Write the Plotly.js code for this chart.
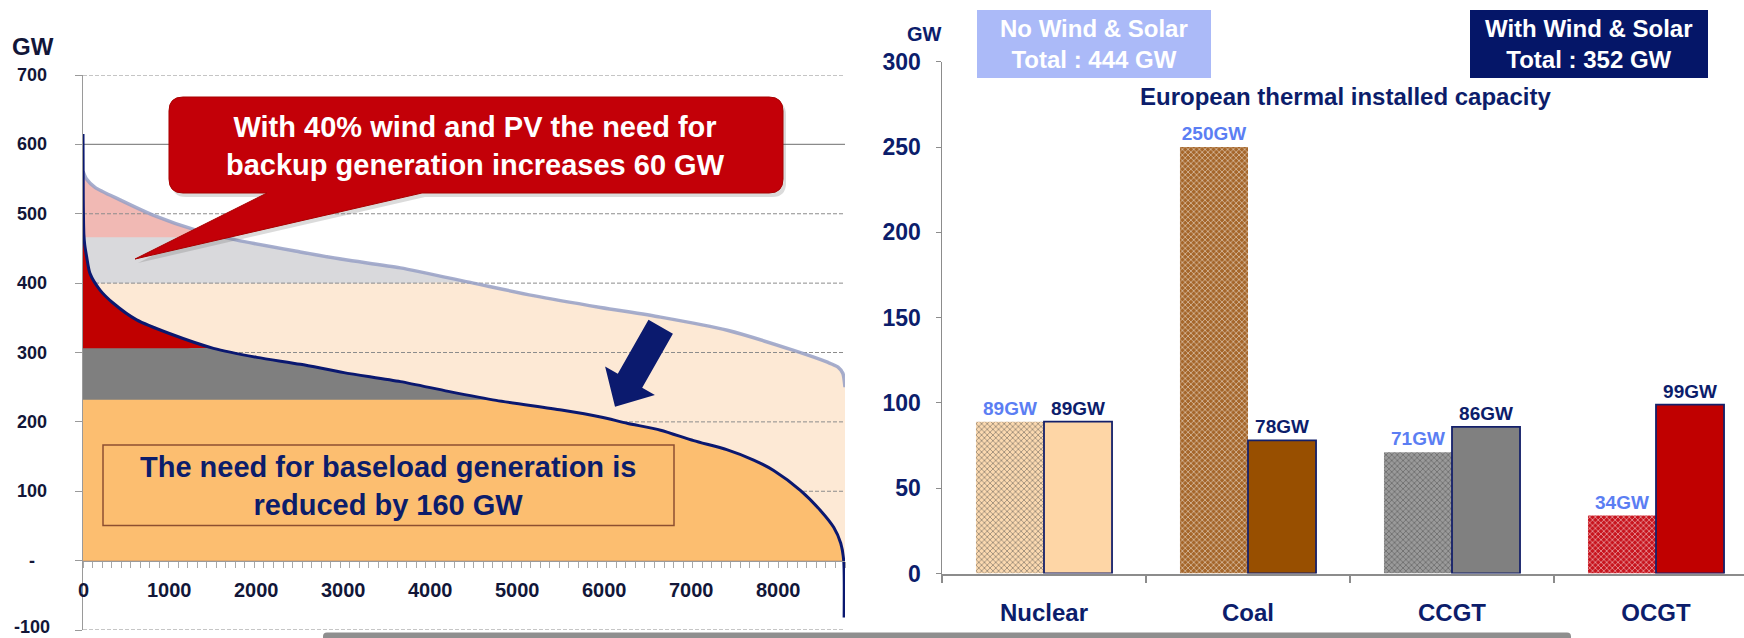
<!DOCTYPE html>
<html>
<head>
<meta charset="utf-8">
<script src="https://cdn.plot.ly/plotly-3.0.1.min.js"></script>
<style>
  html, body { margin: 0; padding: 0; background: #ffffff; overflow: hidden; }
  #chart { width: 1744px; height: 638px; }
</style>
</head>
<body>
<div id="chart"></div>
<script>
// ---- Residual load duration curves (hour rank of the year, GW) ----
const noWindHours = [0, 40, 138, 425, 805, 1308, 1768, 2497, 3000, 3648, 4488, 5178, 5950, 6640, 7407, 8170, 8558, 8680, 8735, 8760];
const noWindGW    = [561, 550, 538, 520, 498, 476, 462, 445, 434, 422, 400, 382, 365, 351, 332, 303, 286, 279, 270, 250];

const withWindHours = [0, 3, 10, 20, 42, 80, 196, 349, 617, 1001, 1500, 2000, 2500, 3000, 3650, 4200, 4750, 5500, 5950, 6256, 6640, 7020, 7400, 7710, 7940, 8250, 8480, 8630, 8711, 8745, 8750];
const withWindGW    = [615, 520, 470, 455, 438, 414, 390, 371, 347, 327, 306, 293, 283, 271, 258, 244, 231, 217, 207, 198, 188, 173, 160, 145, 130, 101, 72, 48, 25, 0, -82];

// Upper limits of the generation bands (GW)
const noWindBandTops   = [400, 466];   // baseload | mid-merit | backup
const withWindBandTops = [232, 306];   // baseload | mid-merit | backup

// Load chart axis ticks
const loadTickVals = [-100, 0, 100, 200, 300, 400, 500, 600, 700];
const loadTickText = ['-100', '-', '100', '200', '300', '400', '500', '600', '700'];
const hourTickVals = [0, 1000, 2000, 3000, 4000, 5000, 6000, 7000, 8000];

// ---- European thermal installed capacity (GW) ----
const techs         = ['Nuclear', 'Coal', 'CCGT', 'OCGT'];
const capNoWind     = [89, 250, 71, 34];
const capWithWind   = [89, 78, 86, 99];
const totalNoWind   = 444;
const totalWithWind = 352;

// ---- Page geometry helpers (pixel -> paper fraction) ----
const W = 1744, H = 638;
const fx = x => x / W;
const fy = y => 1 - y / H;
const P = (x, y) => fx(x).toFixed(5) + ',' + fy(y).toFixed(5);

const FONT = 'Liberation Sans, Arial, Helvetica, sans-serif';
const NAVY = '#0c1d6b';
const INK = '#121638';

// Left plot domain
const loadY0px = 630, loadY1px = 75;
const loadRange = [-100, 700];
const loadYDomain = [fy(loadY0px), fy(loadY1px)];
const zeroPos = loadYDomain[0] + (0 - loadRange[0]) / (loadRange[1] - loadRange[0]) * (loadYDomain[1] - loadYDomain[0]);

// Right plot domain
const capX0px = 942, catPx = 204;
const capYDomain = [fy(573.5), fy(61.7)];

const clipTop = (arr, top) => arr.map(v => Math.max(0, Math.min(v, top)));
const clipZero = arr => arr.map(v => Math.max(0, v));
const SMOOTH = 0.7;

function area(x, y, color) {
  return {
    type: 'scatter', mode: 'lines', x: x, y: y, xaxis: 'x', yaxis: 'y',
    fill: 'tozeroy', fillcolor: color,
    line: { width: 0, color: color, shape: 'spline', smoothing: SMOOTH },
    hoverinfo: 'skip', showlegend: false
  };
}

// gridlines of the load chart, drawn between the two layers of areas
const dashedVals = loadTickVals.filter(v => v !== 0 && v !== 600);
const gx = [], gy = [];
dashedVals.forEach(v => { gx.push(0, 8760, null); gy.push(v, v, null); });

const patternFill = { fillmode: 'overlay', shape: 'x', size: 4, solidity: 0.35, fgcolor: '#ffffff', fgopacity: 0.6 };

const traces = [
  // without wind & solar: backup / mid / base areas under the load curve
  area(noWindHours, clipZero(noWindGW), '#f1b9b4'),
  area(noWindHours, clipTop(noWindGW, noWindBandTops[1]), '#d9d9dc'),
  area(noWindHours, clipTop(noWindGW, noWindBandTops[0]), '#fde9d5'),
  { type: 'scatter', mode: 'lines', x: gx, y: gy, xaxis: 'x', yaxis: 'y',
    line: { color: '#8c8c8c', width: 1, dash: '4px,2px' }, hoverinfo: 'skip', showlegend: false },
  { type: 'scatter', mode: 'lines', x: [0, 8760], y: [600, 600], xaxis: 'x', yaxis: 'y',
    line: { color: '#8a8a8a', width: 1.2 }, hoverinfo: 'skip', showlegend: false },
  // with wind & solar: residual load areas
  area(withWindHours, clipZero(withWindGW), '#c00000'),
  area(withWindHours, clipTop(withWindGW, withWindBandTops[1]), '#7f7f7f'),
  area(withWindHours, clipTop(withWindGW, withWindBandTops[0]), '#fcbe70'),
  // curves
  { type: 'scatter', mode: 'lines', x: noWindHours, y: noWindGW, xaxis: 'x', yaxis: 'y',
    line: { color: 'rgba(150,160,198,0.85)', width: 3.5, shape: 'spline', smoothing: SMOOTH },
    hoverinfo: 'skip', showlegend: false },
  { type: 'scatter', mode: 'lines', x: withWindHours, y: withWindGW, xaxis: 'x', yaxis: 'y',
    line: { color: '#0a1870', width: 3, shape: 'spline', smoothing: SMOOTH },
    hoverinfo: 'skip', showlegend: false },
  // capacity bars
  { type: 'bar', name: 'No Wind & Solar', x: techs, y: capNoWind, xaxis: 'x2', yaxis: 'y2',
    marker: { color: ['#fbd9b0', '#a5662a', '#9a9a9a', '#c8141e'],
              line: { width: 0 }, pattern: patternFill },
    texttemplate: '%{y}GW', textposition: 'outside', cliponaxis: false, constraintext: 'none',
    textfont: { family: FONT, size: 19, color: '#5b7ef3', weight: 'bold' },
    hoverinfo: 'skip', showlegend: false },
  { type: 'bar', name: 'With Wind & Solar', x: techs, y: capWithWind, xaxis: 'x2', yaxis: 'y2',
    marker: { color: ['#fed6a6', '#984f00', '#808080', '#c00000'],
              line: { width: 1.8, color: '#14206a' } },
    texttemplate: '%{y}GW', textposition: 'outside', cliponaxis: false, constraintext: 'none',
    textfont: { family: FONT, size: 19, color: NAVY, weight: 'bold' },
    hoverinfo: 'skip', showlegend: false }
];

// ---- Annotations ----
const annotations = [];
// load chart tick labels
loadTickVals.forEach((v, i) => annotations.push({
  xref: 'paper', yref: 'y', x: fx(32), y: v, text: loadTickText[i], showarrow: false,
  xanchor: 'center', yanchor: 'middle', yshift: v === -100 ? 3 : 0,
  font: { family: FONT, size: 18, color: INK, weight: 'bold' }
}));
hourTickVals.forEach(v => annotations.push({
  xref: 'x', yref: 'y', x: v, y: -42, text: String(v), showarrow: false,
  xanchor: 'center', yanchor: 'middle', font: { family: FONT, size: 20, color: INK, weight: 'bold' }
}));
annotations.push(
  { xref: 'paper', yref: 'paper', x: fx(33), y: fy(46), text: 'GW', showarrow: false,
    xanchor: 'center', yanchor: 'middle', font: { family: FONT, size: 24, color: INK, weight: 'bold' } },
  { xref: 'paper', yref: 'paper', x: fx(475), y: fy(146), showarrow: false,
    text: 'With 40% wind and PV the need for<br>backup generation increases 60 GW',
    xanchor: 'center', yanchor: 'middle', align: 'center',
    font: { family: FONT, size: 29, color: '#ffffff', weight: 'bold' } },
  { xref: 'paper', yref: 'paper', x: fx(388), y: fy(486), showarrow: false,
    text: 'The need for baseload generation is<br>reduced by 160 GW',
    xanchor: 'center', yanchor: 'middle', align: 'center',
    font: { family: FONT, size: 29, color: NAVY, weight: 'bold' } },
  // capacity chart texts
  { xref: 'paper', yref: 'paper', x: fx(924), y: fy(34), text: 'GW', showarrow: false,
    xanchor: 'center', yanchor: 'middle', font: { family: FONT, size: 20, color: NAVY, weight: 'bold' } },
  { xref: 'paper', yref: 'paper', x: fx(1345), y: fy(97), text: 'European thermal installed capacity', showarrow: false,
    xanchor: 'center', yanchor: 'middle', font: { family: FONT, size: 24, color: NAVY, weight: 'bold' } },
  { xref: 'paper', yref: 'paper', x: fx(1094), y: fy(44), showarrow: false,
    text: 'No Wind & Solar<br>Total : ' + totalNoWind + ' GW', align: 'center',
    xanchor: 'center', yanchor: 'middle', font: { family: FONT, size: 24, color: '#ffffff', weight: 'bold' } },
  { xref: 'paper', yref: 'paper', x: fx(1589), y: fy(44), showarrow: false,
    text: 'With Wind & Solar<br>Total : ' + totalWithWind + ' GW', align: 'center',
    xanchor: 'center', yanchor: 'middle', font: { family: FONT, size: 24, color: '#ffffff', weight: 'bold' } }
);

// ---- Shapes: callout bubble, arrow, boxes, footer bar ----
function bubblePath(dx, dy) {
  const L = 169 + dx, R = 783 + dx, T = 97 + dy, B = 193 + dy, r = 14;
  return 'M' + P(L + r, T) + ' L' + P(R - r, T) + ' Q' + P(R, T) + ' ' + P(R, T + r) +
         ' L' + P(R, B - r) + ' Q' + P(R, B) + ' ' + P(R - r, B) +
         ' L' + P(422 + dx, B) + ' L' + P(135 + dx, 259 + dy) + ' L' + P(267 + dx, B) +
         ' L' + P(L + r, B) + ' Q' + P(L, B) + ' ' + P(L, B - r) +
         ' L' + P(L, T + r) + ' Q' + P(L, T) + ' ' + P(L + r, T) + ' Z';
}
const arrowPts = [[672.9, 333.7], [642.2, 387.8], [654.9, 395.1], [615, 406.7], [605.1, 366.5], [617.8, 373.8], [648.5, 319.7]];
const arrowPath = 'M' + arrowPts.map(p => P(p[0], p[1])).join(' L') + ' Z';

function roundRect(x0, y0, x1, y1, r) {
  return 'M' + P(x0 + r, y0) + ' L' + P(x1 - r, y0) + ' Q' + P(x1, y0) + ' ' + P(x1, y0 + r) +
         ' L' + P(x1, y1 - r) + ' Q' + P(x1, y1) + ' ' + P(x1 - r, y1) +
         ' L' + P(x0 + r, y1) + ' Q' + P(x0, y1) + ' ' + P(x0, y1 - r) +
         ' L' + P(x0, y0 + r) + ' Q' + P(x0, y0) + ' ' + P(x0 + r, y0) + ' Z';
}

const shapes = [
  { type: 'path', xref: 'paper', yref: 'paper', path: bubblePath(3, 4),
    fillcolor: 'rgba(90,90,90,0.22)', line: { width: 0 } },
  { type: 'path', xref: 'paper', yref: 'paper', path: bubblePath(0, 0),
    fillcolor: '#c30008', line: { width: 1, color: '#a80000' } },
  { type: 'path', xref: 'paper', yref: 'paper', path: arrowPath,
    fillcolor: '#0b1a6e', line: { width: 0 } },
  { type: 'rect', xref: 'paper', yref: 'paper', x0: fx(103), x1: fx(674), y0: fy(525.5), y1: fy(445),
    fillcolor: 'rgba(0,0,0,0)', line: { width: 1.5, color: '#8d4f30' } },
  { type: 'rect', xref: 'paper', yref: 'paper', x0: fx(977), x1: fx(1211), y0: fy(78), y1: fy(10),
    fillcolor: '#abbaf8', line: { width: 0 } },
  { type: 'rect', xref: 'paper', yref: 'paper', x0: fx(1470), x1: fx(1708), y0: fy(78), y1: fy(10),
    fillcolor: '#051668', line: { width: 0 } },
  { type: 'path', xref: 'paper', yref: 'paper', path: roundRect(323, 632.5, 1571, 646, 4),
    fillcolor: '#8e8e8e', line: { width: 0 } }
];

const layout = {
  width: W, height: H,
  margin: { l: 0, r: 0, t: 0, b: 0, pad: 0 },
  paper_bgcolor: '#ffffff', plot_bgcolor: 'rgba(0,0,0,0)',
  showlegend: false,
  font: { family: FONT, color: NAVY },
  xaxis: {
    domain: [fx(83), fx(845)], range: [0, 8760], anchor: 'free', position: zeroPos,
    showline: true, linecolor: '#9a9a9a', linewidth: 1.5,
    tickmode: 'linear', tick0: 0, dtick: 109.5, ticks: 'outside', ticklen: 6, tickwidth: 1, tickcolor: '#a8a8a8',
    showticklabels: false, showgrid: false, zeroline: false, fixedrange: true
  },
  yaxis: {
    domain: loadYDomain, range: loadRange, anchor: 'x',
    showline: true, linecolor: '#9a9a9a', linewidth: 1,
    tickmode: 'array', tickvals: loadTickVals, ticks: 'outside', ticklen: 7, tickcolor: '#9a9a9a',
    showticklabels: false, showgrid: false, zeroline: false, fixedrange: true
  },
  xaxis2: {
    domain: [fx(capX0px), 1], range: [-0.5, -0.5 + (W - capX0px) / catPx], anchor: 'y2',
    type: 'category', showline: true, linecolor: '#8c8c8c', linewidth: 2.5,
    ticks: 'outside', tickson: 'boundaries', ticklen: 7, tickwidth: 1.5, tickcolor: '#8c8c8c',
    ticklabelstandoff: 16,
    tickfont: { family: FONT, size: 24, color: NAVY, weight: 'bold' },
    showgrid: false, zeroline: false, fixedrange: true
  },
  yaxis2: {
    domain: capYDomain, range: [0, 300], anchor: 'x2',
    showline: true, linecolor: '#8c8c8c', linewidth: 1.5,
    tickmode: 'linear', tick0: 0, dtick: 50, ticks: 'outside', ticklen: 5, tickcolor: '#8c8c8c',
    ticklabelstandoff: 10,
    tickfont: { family: FONT, size: 23, color: NAVY, weight: 'bold' },
    showgrid: false, zeroline: false, fixedrange: true
  },
  barmode: 'group', bargap: 0.333, bargroupgap: 0,
  annotations: annotations,
  shapes: shapes
};

Plotly.newPlot('chart', traces, layout, { staticPlot: true, displayModeBar: false });
</script>
</body>
</html>
